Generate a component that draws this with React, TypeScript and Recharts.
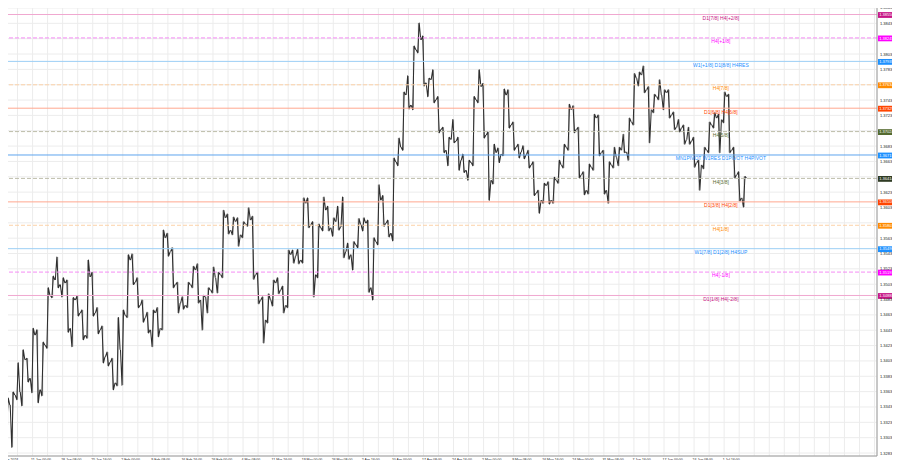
import React from 'react';
import { ComposedChart, Bar, XAxis, YAxis, CartesianGrid, ReferenceLine } from 'recharts';

const chartTitle = '\u25BC USDCAD,H4 1.36389 1.36436 1.36267 1.36419';

// candles: [open, high, low, close]
const janCandles = [
  [1.3363, 1.3368, 1.3321, 1.3329], [1.3329, 1.3355, 1.332, 1.3346], [1.3346, 1.3363, 1.3291, 1.3359],
  [1.3359, 1.3401, 1.3353, 1.3363], [1.3363, 1.3418, 1.3345, 1.3405], [1.3405, 1.3407, 1.3376, 1.3381],
  [1.3381, 1.3446, 1.3362, 1.3437], [1.3437, 1.3444, 1.3349, 1.3366], [1.3366, 1.3428, 1.3358, 1.3424],
  [1.3424, 1.3499, 1.342, 1.3489], [1.3489, 1.3514, 1.3486, 1.3509], [1.3509, 1.3539, 1.3499, 1.3503],
  [1.3503, 1.3512, 1.3487, 1.3505], [1.3505, 1.3509, 1.3441, 1.3446], [1.3446, 1.3486, 1.3422, 1.3483],
  [1.3483, 1.3488, 1.3462, 1.3466], [1.3466, 1.347, 1.3431, 1.3437], [1.3437, 1.3535, 1.3433, 1.3513],
  [1.3513, 1.3519, 1.3462, 1.3466], [1.3466, 1.3473, 1.3439, 1.3444], [1.3444, 1.3449, 1.3401, 1.3409],
  [1.3409, 1.3415, 1.3397, 1.3402], [1.3402, 1.3407, 1.3366, 1.3375], [1.3375, 1.346, 1.3371, 1.3418],
];
const febCandles = [
  [1.3418, 1.347, 1.3372, 1.3463], [1.3463, 1.3542, 1.346, 1.3535], [1.3535, 1.3543, 1.3503, 1.3506],
  [1.3506, 1.3512, 1.3473, 1.3476], [1.3476, 1.3483, 1.3454, 1.346], [1.346, 1.3467, 1.344, 1.3444],
  [1.3444, 1.347, 1.3422, 1.3466], [1.3466, 1.3473, 1.3435, 1.3446], [1.3446, 1.3574, 1.3444, 1.3564],
  [1.3564, 1.357, 1.354, 1.3546], [1.3546, 1.3551, 1.3499, 1.3503], [1.3503, 1.3506, 1.3466, 1.3479],
  [1.3479, 1.3487, 1.3471, 1.3476], [1.3476, 1.3506, 1.3473, 1.3503], [1.3503, 1.3527, 1.3499, 1.3522],
  [1.3522, 1.353, 1.3479, 1.3483], [1.3483, 1.3489, 1.3444, 1.3487], [1.3487, 1.3499, 1.3466, 1.3496],
  [1.3496, 1.3526, 1.3492, 1.3512], [1.3512, 1.3519, 1.3492, 1.3516], [1.3516, 1.36, 1.3512, 1.359],
  [1.359, 1.3595, 1.3569, 1.3574], [1.3574, 1.3591, 1.3568, 1.3585],
];
const marCandles = [
  [1.3585, 1.359, 1.3553, 1.3568], [1.3568, 1.3585, 1.3564, 1.3582], [1.3582, 1.3603, 1.3579, 1.3587],
  [1.3587, 1.3592, 1.351, 1.3516], [1.3516, 1.3519, 1.3478, 1.3483], [1.3483, 1.3487, 1.3427, 1.3457],
  [1.3457, 1.3491, 1.3453, 1.3483], [1.3483, 1.3509, 1.3475, 1.3505], [1.3505, 1.3512, 1.3491, 1.3496],
  [1.3496, 1.3501, 1.3466, 1.3476], [1.3476, 1.3548, 1.3473, 1.3542], [1.3542, 1.3548, 1.3531, 1.354],
  [1.354, 1.3549, 1.353, 1.3535], [1.3535, 1.3616, 1.3531, 1.3609], [1.3609, 1.3616, 1.3577, 1.3581],
  [1.3581, 1.3585, 1.3487, 1.3516], [1.3516, 1.3582, 1.3512, 1.3577], [1.3577, 1.3617, 1.3573, 1.36],
  [1.36, 1.3605, 1.3573, 1.3577], [1.3577, 1.359, 1.3566, 1.3585], [1.3585, 1.3605, 1.3574, 1.3578],
  [1.3578, 1.3617, 1.3538, 1.3546], [1.3546, 1.3557, 1.3536, 1.3542],
];
const aprCandles = [
  [1.3542, 1.3559, 1.3522, 1.3555], [1.3555, 1.3589, 1.3551, 1.3581], [1.3581, 1.359, 1.3573, 1.3583],
  [1.3583, 1.3587, 1.3493, 1.3499], [1.3499, 1.3564, 1.3483, 1.3559], [1.3559, 1.3633, 1.3555, 1.3613],
  [1.3613, 1.3619, 1.3579, 1.3583], [1.3583, 1.3587, 1.3565, 1.357], [1.357, 1.3668, 1.356, 1.3663],
  [1.3663, 1.3694, 1.3658, 1.3682], [1.3682, 1.3754, 1.3678, 1.375], [1.375, 1.3775, 1.3732, 1.3737],
  [1.3737, 1.3814, 1.3731, 1.3809], [1.3809, 1.3844, 1.3805, 1.3822], [1.3822, 1.3827, 1.3762, 1.3766],
  [1.3766, 1.3772, 1.3748, 1.377], [1.377, 1.3783, 1.374, 1.3744], [1.3744, 1.3748, 1.3701, 1.3705],
  [1.3705, 1.3708, 1.3675, 1.3678], [1.3678, 1.3695, 1.3658, 1.3692], [1.3692, 1.3718, 1.3688, 1.369],
  [1.369, 1.3695, 1.3652, 1.3665], [1.3665, 1.3673, 1.3649, 1.3652], [1.3652, 1.3665, 1.3639, 1.3662],
  [1.3662, 1.3748, 1.3658, 1.3744],
];
const mayCandles = [
  [1.3744, 1.3783, 1.374, 1.3761], [1.3761, 1.3765, 1.3694, 1.3698], [1.3698, 1.3702, 1.3613, 1.3639],
  [1.3639, 1.3686, 1.3634, 1.3675], [1.3675, 1.3681, 1.3662, 1.3673], [1.3673, 1.3758, 1.3671, 1.375],
  [1.375, 1.3757, 1.3707, 1.3711], [1.3711, 1.3715, 1.3678, 1.3682], [1.3682, 1.3686, 1.3668, 1.3676],
  [1.3676, 1.3684, 1.3667, 1.3672], [1.3672, 1.3678, 1.3655, 1.3659], [1.3659, 1.3663, 1.3619, 1.3622],
  [1.3622, 1.3626, 1.3596, 1.3613], [1.3613, 1.3635, 1.3609, 1.3632], [1.3632, 1.3637, 1.3608, 1.3613],
  [1.3613, 1.3643, 1.3609, 1.3639], [1.3639, 1.3665, 1.3635, 1.3659], [1.3659, 1.3686, 1.3655, 1.3682],
  [1.3682, 1.3738, 1.3678, 1.3731], [1.3731, 1.3736, 1.3701, 1.3705], [1.3705, 1.3708, 1.3642, 1.3646],
  [1.3646, 1.365, 1.362, 1.3626], [1.3626, 1.366, 1.3621, 1.3656], [1.3656, 1.3725, 1.3652, 1.372],
  [1.372, 1.3724, 1.3671, 1.3675], [1.3675, 1.3678, 1.3621, 1.3626],
];
const junCandles = [
  [1.3626, 1.3663, 1.3609, 1.3659], [1.3659, 1.3682, 1.3655, 1.3669], [1.3669, 1.3682, 1.3658, 1.3678],
  [1.3678, 1.3699, 1.3675, 1.3676], [1.3676, 1.372, 1.3665, 1.3715], [1.3715, 1.3778, 1.3711, 1.3772],
  [1.3772, 1.378, 1.3762, 1.3776], [1.3776, 1.3788, 1.3753, 1.3757], [1.3757, 1.3761, 1.3688, 1.3731],
  [1.3731, 1.3751, 1.3727, 1.3748], [1.3748, 1.377, 1.3744, 1.375], [1.375, 1.3757, 1.3731, 1.3753],
  [1.3753, 1.3757, 1.372, 1.3724], [1.3724, 1.3728, 1.3705, 1.3708], [1.3708, 1.3718, 1.3702, 1.3707],
  [1.3707, 1.3711, 1.3686, 1.3692], [1.3692, 1.3708, 1.3686, 1.369], [1.369, 1.3695, 1.3656, 1.3662],
  [1.3662, 1.3665, 1.3626, 1.3659], [1.3659, 1.3682, 1.3654, 1.3678],
];
const julCandles = [
  [1.3678, 1.3715, 1.3675, 1.3711], [1.3711, 1.3727, 1.3707, 1.372], [1.372, 1.3725, 1.3675, 1.3718],
  [1.3718, 1.3754, 1.3714, 1.3748], [1.3748, 1.3751, 1.3675, 1.3678], [1.3678, 1.3682, 1.3642, 1.3646],
  [1.3646, 1.365, 1.3612, 1.3616], [1.3616, 1.3644, 1.3604, 1.36419],
];

const dateLabels = [
  '3 Jan 2024', '11 Jan 00:00', '18 Jan 08:00', '25 Jan 16:00', '2 Feb 00:00', '9 Feb 08:00',
  '16 Feb 16:00', '26 Feb 00:00', '4 Mar 08:00', '11 Mar 16:00', '19 Mar 00:00', '26 Mar 08:00',
  '2 Apr 16:00', '10 Apr 00:00', '17 Apr 08:00', '24 Apr 16:00', '2 May 00:00', '9 May 08:00',
  '16 May 16:00', '24 May 00:00', '31 May 08:00', '7 Jun 16:00', '17 Jun 00:00', '24 Jun 08:00',
  '1 Jul 16:00',
];

const priceTicks = [
  1.32835, 1.33035, 1.33235, 1.33435, 1.33635, 1.33835, 1.34035, 1.34235, 1.34435, 1.34635,
  1.34835, 1.35035, 1.35235, 1.35435, 1.35635, 1.35835, 1.36035, 1.36235, 1.36435, 1.36635,
  1.36835, 1.37035, 1.37235, 1.37435, 1.37635, 1.37835, 1.38035, 1.38235, 1.38435, 1.38635,
];

const levelPrices = [
  1.3855, 1.38245, 1.37939, 1.37634, 1.37329, 1.37024, 1.36719, 1.36414, 1.36108, 1.35803,
  1.35498, 1.35193, 1.34888,
];
const levelNames = [
  'D1[7/8] H4[+2/8]', 'H4[+1/8]', 'W1[+1/8] D1[8/8] H4RES', 'H4[7/8]', 'D1[6/8] H4[6/8]', 'H4[5/8]',
  'MN1PIVOT W1RES D1PIVOT H4PIVOT', 'H4[3/8]', 'D1[3/8] H4[2/8]', 'H4[1/8]', 'W1[7/8] D1[2/8] H4SUP',
  'H4[-1/8]', 'D1[1/8] H4[-2/8]',
];

const PRICE_MIN = 1.32796;
const PRICE_MAX = 1.38726;
const TOTAL_SLOTS = 175;
const SLOTS_PER_LABEL = 6;
const SLOTS_PER_GRID = 3;

// ---- styles (kept apart from data) ----
const levelStyles = [
  { line: '#f0a8d0', dash: false, tag: '#c71585', text: '#c71585' },
  { line: '#f58cf5', dash: true, tag: '#ff00ff', text: '#ff00ff' },
  { line: '#9ccff5', dash: false, tag: '#1e90ff', text: '#1e90ff' },
  { line: '#fcd2a8', dash: true, tag: '#ff8c00', text: '#ff8c00' },
  { line: '#ffa78f', dash: false, tag: '#ff4500', text: '#ff4500' },
  { line: '#bdbdaa', dash: true, tag: '#556b2f', text: '#556b2f' },
  { line: '#5ea4ee', dash: false, tag: '#1e90ff', text: '#1e90ff' },
  { line: '#bdbdaa', dash: true, tag: '#2f3b24', text: '#556b2f' },
  { line: '#ffa78f', dash: false, tag: '#ff4500', text: '#ff4500' },
  { line: '#fcd2a8', dash: true, tag: '#ff8c00', text: '#ff8c00' },
  { line: '#9ccff5', dash: false, tag: '#1e90ff', text: '#1e90ff' },
  { line: '#f58cf5', dash: true, tag: '#ff00ff', text: '#ff00ff' },
  { line: '#f0a8d0', dash: false, tag: '#c71585', text: '#c71585' },
];
const FONT = '"Liberation Sans", Arial, sans-serif';

const candles = [...janCandles, ...febCandles, ...marCandles, ...aprCandles, ...mayCandles, ...junCandles, ...julCandles];
const data = Array.from({ length: TOTAL_SLOTS }, (_, i) => {
  const c = candles[i];
  return c ? { i, o: c[0], h: c[1], l: c[2], c: c[3] } : { i };
});
const gridSlots = Array.from({ length: Math.ceil(TOTAL_SLOTS / SLOTS_PER_GRID) }, (_, k) => k * SLOTS_PER_GRID);
const formatSlot = (v: any) => {
  const idx = Number(v);
  if (!Number.isFinite(idx) || idx % SLOTS_PER_LABEL !== 0) return '';
  return dateLabels[idx / SLOTS_PER_LABEL] || '';
};

// Each H4 group is drawn as the path open -> extreme -> extreme -> close, which at this
// density reads like the reference's packed bar chart.
const Candle = (props: any) => {
  const { x, y, width, height, payload } = props;
  if (!payload || payload.h == null || height == null || isNaN(height)) return null;
  const { o, h, l, c } = payload;
  const top = Math.min(y, y + height);
  const H = Math.abs(height);
  const k = H / (h - l || 1e-9);
  const up = c >= o;
  const seq = up ? [o, l, h, c] : [o, h, l, c];
  const x0 = x + 0.2;
  const w = width - 0.4;
  const pts = seq.map((v, j) => `${x0 + (w * j) / 3},${top + (h - v) * k}`).join(' ');
  const cx = x + width / 2;
  return (
    <g>
      <line x1={cx} x2={cx} y1={top} y2={top + H} stroke="#9a9a9a" strokeWidth={1.1} />
      <polyline points={pts} fill="none" stroke="#2e2e2e" strokeWidth={1.05} strokeLinejoin="round" />
    </g>
  );
};

const YTick = (props: any) => {
  const { x, y, payload } = props;
  const v = Number(payload.value);
  if (levelPrices.some((p) => Math.abs(p - v) < 0.00036)) return null;
  return (
    <text x={x + 3} y={y + 1.5} fontSize={4} fill="#222" fontFamily={FONT} textAnchor="start">
      {v.toFixed(5)}
    </text>
  );
};

const LevelLabel = (props: any) => {
  const { viewBox, idx } = props;
  if (!viewBox) return null;
  const { x, y, width } = viewBox;
  const st = levelStyles[idx];
  const right = x + width;
  return (
    <g>
      <text x={x + width * 0.822} y={y + 5.4} textAnchor="middle" fontSize={5} fill={st.text} fontFamily={FONT}>
        {levelNames[idx]}
      </text>
      <rect x={right + 1} y={y - 2.4} width={19.5} height={5.8} fill={st.tag} />
      <text x={right + 2.2} y={y + 1.6} fontSize={4} fill="#fff" fontFamily={FONT}>
        {levelPrices[idx].toFixed(5)}
      </text>
    </g>
  );
};

export default function App() {
  return (
    <div style={{ position: 'relative', width: 900, height: 468, margin: -8, background: '#fff', overflow: 'hidden' }}>
      <ComposedChart
        width={900}
        height={468}
        data={data}
        margin={{ top: 1, right: 0, bottom: 0, left: 0 }}
        barCategoryGap={0}
        barGap={0}
      >
        <CartesianGrid stroke="#ececec" strokeWidth={1} />
        <XAxis
          dataKey="i"
          type="category"
          ticks={gridSlots}
          interval={0}
          height={12}
          tickSize={0}
          tickMargin={2.8}
          tickLine={false}
          axisLine={{ stroke: '#9a9a9a' }}
          tickFormatter={formatSlot}
          tick={{ fontSize: 3.5, fill: '#222', fontFamily: FONT, textAnchor: 'start', dx: -1.5 }}
        />
        <YAxis
          orientation="right"
          type="number"
          width={23}
          domain={[PRICE_MIN, PRICE_MAX]}
          allowDataOverflow
          ticks={priceTicks}
          interval={0}
          tickSize={0}
          tickMargin={0}
          tickLine={false}
          axisLine={{ stroke: '#9a9a9a' }}
          tick={(p: any) => <YTick {...p} />}
        />
        {levelPrices.map((p, idx) => (
          <ReferenceLine
            key={idx}
            y={p}
            stroke={levelStyles[idx].line}
            strokeWidth={1}
            strokeDasharray={levelStyles[idx].dash ? '4 2' : undefined}
            label={(lp: any) => <LevelLabel {...lp} idx={idx} />}
          />
        ))}
        <Bar
          dataKey={(d: any) => (d.h == null ? null : [d.l, d.h])}
          shape={<Candle />}
          isAnimationActive={false}
        />
      </ComposedChart>
      <div style={{ position: 'absolute', left: 0, top: 0, width: 877, height: 1, background: '#8a8a8a' }} />
      <div style={{ position: 'absolute', left: 0, top: 0, width: 1, height: 456, background: '#9a9a9a' }} />
      <svg width={130} height={8} style={{ position: 'absolute', left: 0, top: 1 }}>
        <text x={2} y={5} fontSize={3.4} fill="#111" fontFamily={FONT}>{chartTitle}</text>
      </svg>
    </div>
  );
}
